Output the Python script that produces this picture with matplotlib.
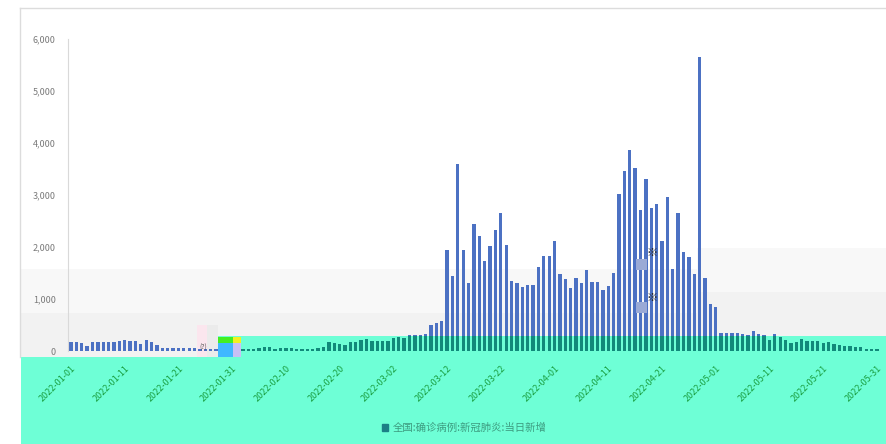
import matplotlib
matplotlib.use("Agg")
import matplotlib.pyplot as plt
import pandas as pd
from matplotlib.patches import Rectangle, Patch
from matplotlib.lines import Line2D

plt.rcParams['font.family'] = ['Noto Sans CJK SC', 'DejaVu Sans']

# Данные: 2022-01-01 .. 2022-05-31, ежедневно
dates = pd.date_range('2022-01-01', '2022-05-31', freq='D')
new_cases = [
    # январь
    175, 170, 160, 90, 175, 170, 165, 165, 170, 200, 210, 200, 190, 130, 205, 180,
    120, 60, 55, 55, 50, 55, 50, 50, 45, 40, 45, 40, 35, 40, 45,
    # февраль - 11 марта
    45, 40, 40, 45, 55, 85, 85, 40, 65, 65, 55, 40, 45, 35, 45, 50, 70, 175, 150, 130,
    125, 175, 175, 210, 225, 190, 185, 190, 200, 250, 260, 255, 315, 315, 315, 320,
    500, 540, 575,
    # 12 марта - 3 апреля
    1938, 1437, 3602, 1940, 1300, 2440, 2210, 1730, 2010, 2330, 2650, 2040, 1350,
    1310, 1240, 1260, 1270, 1615, 1830, 1830, 2110, 1490, 1390, 1210,
    # 4 - 26 апреля
    1400, 1300, 1550, 1330, 1330, 1165, 1250, 1500, 3010, 3470, 3870, 3510, 2720,
    3300, 2750, 2830, 2115, 2970, 1570, 2660, 1900, 1800, 1490,
    # 27 апреля - 31 мая
    5650, 1410, 900, 840, 350, 350, 355, 355, 335, 310, 390, 335, 305, 210, 320, 265,
    210, 150, 175, 230, 200, 200, 195, 150, 175, 130, 125, 100, 95, 70, 70, 40, 40, 40,
]
series_name = '全国:确诊病例:新冠肺炎:当日新增'
y_ticks = [0, 1000, 2000, 3000, 4000, 5000, 6000]
tick_step = 10

W, H = 887, 444
fig = plt.figure(figsize=(W / 100, H / 100), dpi=100)


def px_rect(x0, y0, x1, y1, color, z=-1):
    # прямоугольник в пикселях (отсчёт сверху)
    r = Rectangle((x0 / W, 1 - y1 / H), (x1 - x0) / W, (y1 - y0) / H,
                  transform=fig.transFigure, facecolor=color, edgecolor='none', zorder=z)
    fig.patches.append(r)


# фон: серые полосы и бирюзовая область
px_rect(21, 269, 697, 313, '#f8f8f8')
px_rect(21, 313, 697, 357, '#f2f2f2')
px_rect(697, 248, 887, 292, '#f8f8f8')
px_rect(697, 292, 887, 336, '#f2f2f2')
px_rect(197, 325, 207, 357, '#fbe6ee')
px_rect(207, 325, 218, 357, '#ebebeb')
px_rect(218, 336, 887, 444, '#6effd6')
px_rect(21, 357, 218, 444, '#6effd6')

# рамка
fig.lines.append(Line2D([20 / W, 1], [1 - 8 / H] * 2, transform=fig.transFigure, color='#dcdcdc', lw=1))
fig.lines.append(Line2D([20 / W] * 2, [1 - 8 / H, 1 - 357 / H], transform=fig.transFigure, color='#dcdcdc', lw=1))

ax = fig.add_axes([68.3 / W, 1 - 351 / H, (879.6 - 68.3) / W, (351 - 39) / H])
ax.patch.set_visible(False)

x = list(range(len(dates)))
ax.bar(x, new_cases, width=0.62, color='#4c71c3', zorder=2)
# часть столбцов под бирюзовой полосой (справа от ~31 января)
overlay_top = (351 - 336) / 52 * 1000
first_overlay = 28
ax.bar(x[first_overlay:], [min(v, overlay_top) for v in new_cases[first_overlay:]],
       width=0.62, color='#11897a', zorder=3)

ax.set_xlim(-0.5, len(dates) - 0.5)
ax.set_ylim(0, 6000)
ax.set_yticks(y_ticks)
ax.set_yticklabels([f'{v:,}' for v in y_ticks])
ax.tick_params(axis='y', length=0, pad=9, labelsize=6.5, labelcolor='#7a7a7a')

xt = x[::tick_step]
ax.set_xticks(xt)
ax.set_xticklabels([dates[i].strftime('%Y-%m-%d') for i in xt], rotation=45,
                   ha='right', va='top', rotation_mode='anchor')
ax.tick_params(axis='x', length=0, pad=9, labelsize=6.5, labelcolor='#1a9f40')

for s in ['top', 'right', 'bottom']:
    ax.spines[s].set_visible(False)
ax.spines['left'].set_color('#d9d9d9')
ax.spines['left'].set_linewidth(0.8)

# легенда снизу
ax.legend([Patch(color='#1c7f86')], [series_name], loc='center',
          bbox_to_anchor=(464 / W, 1 - 428 / H), bbox_transform=fig.transFigure,
          frameon=False, fontsize=7.5, handlelength=0.6, handleheight=0.6,
          handletextpad=0.4, labelcolor='#3d9c80')

# артефакты скриншота
px_rect(218, 337, 233, 343, '#44ee22', z=5)
px_rect(233, 337, 241, 343, '#f4f020', z=5)
px_rect(218, 343, 233, 357, '#3fb8ff', z=5)
px_rect(233, 343, 241, 357, '#c8c0f5', z=5)
px_rect(636, 259, 647, 270, '#9aaad6', z=5)
px_rect(636, 302, 647, 313, '#9aaad6', z=5)
fig.text(652 / W, 1 - 253 / H, '※', fontsize=8, color='#222222', ha='center', va='center', zorder=6)
fig.text(652 / W, 1 - 298 / H, '※', fontsize=8, color='#222222', ha='center', va='center', zorder=6)
fig.text(203 / W, 1 - 348 / H, '(?)', fontsize=5, color='#555555', ha='center', va='center', zorder=6)

fig.savefig('out.png', dpi=100)
